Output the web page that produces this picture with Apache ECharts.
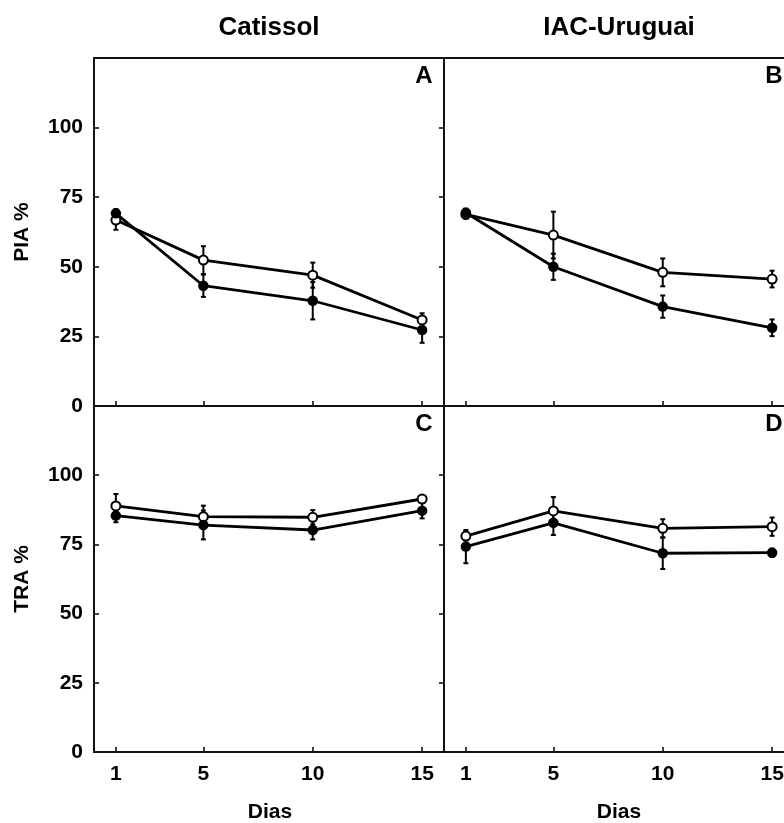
<!DOCTYPE html>
<html>
<head>
<meta charset="utf-8">
<script src="https://cdn.jsdelivr.net/npm/echarts@6/dist/echarts.min.js"></script>
<style>
	body { margin: 0; background: #fff; }
	#main { width: 784px; height: 823px; }
</style>
</head>
<body>
<div id="main"></div>
<script>
var days = [1, 5, 10, 15]
var yTicks = [0, 25, 50, 75, 100]

// PIA % - Catissol (A)
var piaCatFilled = [69.2, 43.2, 37.8, 27.3]
var piaCatFilledErr = [1.5, 4.0, 6.7, 4.6]
var piaCatOpen = [66.8, 52.4, 47.0, 30.9]
var piaCatOpenErr = [3.5, 5.0, 4.5, 2.4]
// PIA % - IAC-Uruguai (B)
var piaIacFilled = [69.4, 50.0, 35.7, 28.1]
var piaIacFilledErr = [1.5, 4.7, 4.0, 3.0]
var piaIacOpen = [68.8, 61.4, 48.0, 45.6]
var piaIacOpenErr = [1.5, 8.4, 5.0, 3.0]
// TRA % - Catissol (C)
var traCatFilled = [85.4, 82.0, 80.2, 87.2]
var traCatFilledErr = [2.4, 5.2, 3.4, 2.8]
var traCatOpen = [88.9, 85.0, 84.8, 91.4]
var traCatOpenErr = [4.3, 4.0, 2.6, 1.0]
// TRA % - IAC-Uruguai (D)
var traIacFilled = [74.2, 82.8, 71.8, 72.0]
var traIacFilledErr = [6.0, 4.4, 5.7, 1.5]
var traIacOpen = [78.0, 87.1, 80.8, 81.4]
var traIacOpenErr = [1.5, 5.0, 3.3, 3.3]

var FONT = 'Arial, "Liberation Sans", sans-serif'
var panels = [
	{ filled: piaCatFilled, filledErr: piaCatFilledErr, open: piaCatOpen, openErr: piaCatOpenErr },
	{ filled: piaIacFilled, filledErr: piaIacFilledErr, open: piaIacOpen, openErr: piaIacOpenErr },
	{ filled: traCatFilled, filledErr: traCatFilledErr, open: traCatOpen, openErr: traCatOpenErr },
	{ filled: traIacFilled, filledErr: traIacFilledErr, open: traIacOpen, openErr: traIacOpenErr }
]

function pairs(vals) {
	return days.map(function (d, i) { return [d, vals[i]] })
}
function triples(vals, errs) {
	return days.map(function (d, i) { return [d, vals[i], errs[i]] })
}

function errorBar(params, api) {
	var x = api.value(0), m = api.value(1), e = api.value(2)
	var hi = api.coord([x, m + e])
	var lo = api.coord([x, m - e])
	var s = { stroke: '#000', lineWidth: 2 }
	return {
		type: 'group',
		children: [
			{ type: 'line', shape: { x1: hi[0], y1: hi[1], x2: lo[0], y2: lo[1] }, style: s },
			{ type: 'line', shape: { x1: hi[0] - 2.5, y1: hi[1], x2: hi[0] + 2.5, y2: hi[1] }, style: s },
			{ type: 'line', shape: { x1: lo[0] - 2.5, y1: lo[1], x2: lo[0] + 2.5, y2: lo[1] }, style: s }
		]
	}
}

var grids = [
	{ left: 94, top: 58, width: 350, height: 348 },
	{ left: 444, top: 58, width: 350, height: 348 },
	{ left: 94, top: 406, width: 350, height: 346 },
	{ left: 444, top: 406, width: 350, height: 346 }
].map(function (g) {
	g.show = true
	g.borderColor = '#111'
	g.borderWidth = 1.8
	g.backgroundColor = 'transparent'
	g.outerBoundsMode = 'none'
	g.containLabel = false
	return g
})

var xAxes = [], yAxes = [], series = []
for (var i = 0; i < 4; i++) {
	var bottom = i >= 2
	var left = i % 2 == 0
	xAxes.push({
		type: 'value', gridIndex: i, min: 0, max: 16,
		splitLine: { show: false },
		axisLine: { lineStyle: { color: '#111', width: 1.8 } },
		axisTick: { inside: true, length: 5, customValues: days, lineStyle: { color: '#111', width: 1.6 } },
		axisLabel: {
			show: bottom, customValues: days, margin: 12,
			fontFamily: FONT, fontWeight: 'bold', fontSize: 21, color: '#000'
		}
	})
	yAxes.push({
		type: 'value', gridIndex: i, min: 0, max: 125, interval: 25,
		splitLine: { show: false },
		axisLine: { lineStyle: { color: '#111', width: 1.8 } },
		axisTick: { inside: left, length: 5, lineStyle: { color: '#111', width: 1.6 } },
		axisLabel: {
			show: left, customValues: yTicks, margin: 11,
			fontFamily: FONT, fontWeight: 'bold', fontSize: 21, color: '#000'
		}
	})
	var p = panels[i]
	series.push({
		type: 'custom', xAxisIndex: i, yAxisIndex: i, z: 1,
		renderItem: errorBar, data: triples(p.open, p.openErr)
	})
	series.push({
		type: 'custom', xAxisIndex: i, yAxisIndex: i, z: 1,
		renderItem: errorBar, data: triples(p.filled, p.filledErr)
	})
	series.push({
		type: 'line', xAxisIndex: i, yAxisIndex: i, z: 3,
		data: pairs(p.open), symbol: 'circle', symbolSize: 9,
		lineStyle: { color: '#000', width: 2.8 },
		itemStyle: { color: '#fff', borderColor: '#000', borderWidth: 2 }
	})
	series.push({
		type: 'line', xAxisIndex: i, yAxisIndex: i, z: 4,
		data: pairs(p.filled), symbol: 'circle', symbolSize: 10.5,
		lineStyle: { color: '#000', width: 2.8 },
		itemStyle: { color: '#000', borderColor: '#000', borderWidth: 0 }
	})
}

function label(txt, x, y, size, rot) {
	return {
		type: 'text', x: x, y: y, rotation: rot || 0, z: 10,
		style: {
			text: txt, fill: '#000', align: 'center', verticalAlign: 'middle',
			font: 'bold ' + size + 'px ' + FONT
		}
	}
}

var myChart = echarts.init(document.getElementById('main'))
var option = {
	animation: false,
	backgroundColor: '#fff',
	grid: grids,
	xAxis: xAxes,
	yAxis: yAxes,
	series: series,
	graphic: [
		label('Catissol', 269, 28, 26),
		label('IAC-Uruguai', 619, 28, 26),
		label('Dias', 270, 812, 21),
		label('Dias', 619, 812, 21),
		label('PIA %', 22, 232, 21, Math.PI / 2),
		label('TRA %', 22, 579, 21, Math.PI / 2),
		label('A', 424, 76, 24),
		label('B', 774, 76, 24),
		label('C', 424, 424, 24),
		label('D', 774, 424, 24)
	]
}
myChart.setOption(option)
</script>
</body>
</html>
